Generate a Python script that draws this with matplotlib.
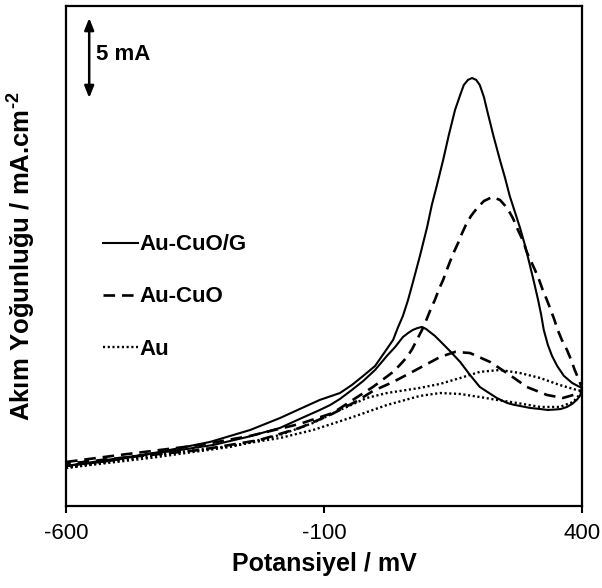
import matplotlib
matplotlib.use("Agg")
import matplotlib.pyplot as plt

plt.rcParams["font.family"] = ["Liberation Sans", "DejaVu Sans"]
plt.rcParams["mathtext.fontset"] = "custom"
plt.rcParams["mathtext.rm"] = "Liberation Sans:bold"
plt.rcParams["mathtext.bf"] = "Liberation Sans:bold"

# Au-CuO/G (solid): forward and reverse scans, potential in mV, current density in mA
g_fwd_x = [-600, -515, -418, -321, -243, -185, -147, -108, -69, -46, -24, -1, 18, 34, 43, 53, 63, 72,
           86, 100, 109, 119, 131, 142, 154, 164, 171, 179, 187, 195, 202, 210, 216, 228, 241, 251,
           260, 270, 280, 290, 299, 307, 315, 321, 326, 334, 342, 352, 365, 381, 392, 400]
g_fwd_y = [2.50, 2.81, 3.38, 4.00, 4.75, 5.50, 6.06, 6.63, 7.06, 7.56, 8.13, 8.75, 9.63, 10.38, 11.13,
           11.88, 12.88, 13.94, 15.63, 17.44, 18.81, 20.06, 21.63, 23.19, 24.75, 25.69, 26.31, 26.63,
           26.75, 26.63, 26.31, 25.56, 24.75, 23.19, 21.63, 20.50, 19.38, 18.38, 17.38, 16.25, 15.06,
           14.00, 12.88, 11.94, 11.00, 10.06, 9.38, 8.75, 8.13, 7.69, 7.50, 7.38]
g_rev_x = [400, 396, 390, 381, 371, 359, 348, 334, 319, 299, 280, 266, 255, 245, 235, 220, 202, 183,
           164, 144, 125, 115, 105, 98, 90, 82, 72, 63, 53, 38, 22, -1, -24, -46, -69, -88, -108,
           -147, -185, -249, -315, -379, -495, -600]
g_rev_y = [7.25, 6.88, 6.63, 6.38, 6.19, 6.06, 6.03, 6.00, 6.06, 6.13, 6.25, 6.34, 6.44, 6.59, 6.75,
           7.06, 7.44, 8.19, 9.00, 9.69, 10.31, 10.63, 10.88, 11.06, 11.19, 11.13, 11.00, 10.81, 10.56,
           9.94, 9.38, 8.50, 7.81, 7.25, 6.69, 6.31, 6.00, 5.44, 4.88, 4.31, 3.81, 3.50, 3.00, 2.50]

# Au-CuO (dashed)
c_fwd_x = [-600, -495, -340, -243, -147, -83, -44, -5, 34, 47, 61, 71, 80, 90, 100, 107, 115, 123,
           131, 138, 144, 152, 160, 167, 175, 185, 197, 210, 226, 241, 255, 266, 276, 286, 293, 301,
           309, 317, 324, 332, 338, 346, 353, 361, 371, 379, 386, 394, 400]
c_fwd_y = [2.75, 3.19, 3.81, 4.38, 5.13, 5.81, 6.63, 7.44, 8.38, 8.81, 9.31, 9.81, 10.38, 11.00, 11.75,
           12.31, 12.88, 13.56, 14.13, 14.75, 15.25, 15.88, 16.44, 17.00, 17.56, 18.13, 18.63, 19.06,
           19.31, 19.13, 18.63, 18.00, 17.25, 16.56, 15.88, 15.31, 14.75, 14.13, 13.50, 12.88, 12.38,
           11.69, 11.00, 10.38, 9.75, 9.13, 8.50, 7.88, 7.38]
c_rev_x = [400, 390, 363, 332, 293, 260, 222, 183, 154, 125, 96, 67, 34, -5, -36, -88, -147,
           -224, -340, -495, -600]
c_rev_y = [7.25, 7.00, 6.75, 6.94, 7.44, 8.19, 9.00, 9.56, 9.63, 9.31, 8.81, 8.31, 7.75, 7.19, 6.56,
           5.69, 4.88, 4.13, 3.50, 3.00, 2.63]

# Au (dotted)
a_fwd_x = [-600, -437, -282, -185, -121, -69, -17, 22, 86, 125, 164, 202, 241, 280, 319, 357, 390, 400]
a_fwd_y = [2.38, 3.00, 3.69, 4.44, 5.19, 6.00, 6.75, 7.06, 7.38, 7.63, 8.00, 8.38, 8.50, 8.31, 8.00,
           7.56, 7.25, 7.19]
a_rev_x = [400, 383, 357, 319, 274, 235, 202, 164, 125, 86, 22, -44, -121, -185, -282, -379, -495, -600]
a_rev_y = [7.13, 6.50, 6.19, 6.19, 6.44, 6.63, 6.81, 7.00, 7.06, 6.88, 6.31, 5.56, 4.75, 4.25, 3.75,
           3.38, 2.88, 2.38]

labels = ["Au-CuO/G", "Au-CuO", "Au"]
x_ticks = [-600, -100, 400]

fig = plt.figure(figsize=(6.02, 5.88), dpi=100)
ax = fig.add_axes([0.1096, 0.1395, 0.8571, 0.8503])

solid = dict(color="black", linewidth=1.5, linestyle="-")
dashed = dict(color="black", linewidth=1.9, linestyle=(0, (4.4, 2.6)))
dotted = dict(color="black", linewidth=1.7, linestyle=(0, (0.9, 1.1)))

ax.plot(g_fwd_x + g_rev_x, g_fwd_y + g_rev_y, label=labels[0], **solid)
ax.plot(c_fwd_x + c_rev_x, c_fwd_y + c_rev_y, label=labels[1], **dashed)
ax.plot(a_fwd_x + a_rev_x, a_fwd_y + a_rev_y, label=labels[2], **dotted)

ax.set_xlim(-600, 400)
ax.set_ylim(0, 31.25)
ax.set_xticks(x_ticks)
ax.set_xticklabels([str(t) for t in x_ticks], fontsize=16)
ax.set_yticks([])
ax.tick_params(axis="x", direction="out", length=5, width=1.5, pad=7)
for spine in ax.spines.values():
    spine.set_linewidth(1.6)

ax.set_xlabel("Potansiyel / mV", fontsize=18, fontweight="bold", labelpad=6)
ax.set_ylabel("Akım Yoğunluğu / mA.cm$^{\\text{-2}}$", fontsize=18.5, fontweight="bold", labelpad=21)

# 5 mA scale bar
ax.annotate("", xy=(-555, 25.5), xytext=(-555, 30.5),
            arrowprops=dict(arrowstyle="<|-|>,head_length=0.5,head_width=0.2", color="black", lw=1.8,
                            mutation_scale=14, shrinkA=0, shrinkB=0))
ax.text(-541, 28.2, "5 mA", fontsize=16, fontweight="bold", va="center", ha="left")

ax.legend(loc="upper left", bbox_to_anchor=(0.055, 0.561), frameon=False,
          prop=dict(size=16, weight="bold"), handlelength=1.55, handletextpad=0.1,
          labelspacing=1.4, borderaxespad=0)

fig.savefig("out.png", dpi=100)
